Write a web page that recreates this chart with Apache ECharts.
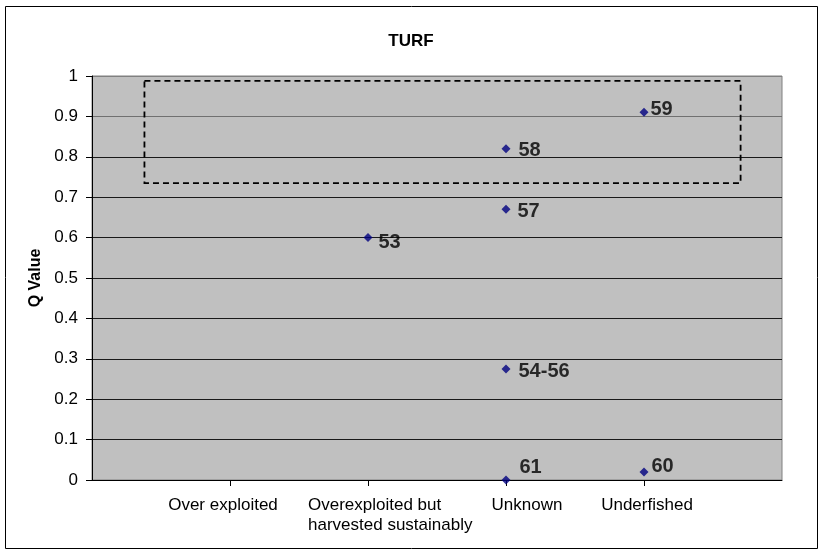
<!DOCTYPE html>
<html>
<head>
<meta charset="utf-8">
<title>TURF</title>
<script src="https://cdn.jsdelivr.net/npm/echarts@6/dist/echarts.min.js"></script>
<style>
  html, body { margin: 0; padding: 0; background: #ffffff; }
  #chart { width: 822px; height: 550px; }
</style>
</head>
<body>
<div id="chart"></div>
<script>
// Stock status categories placed on x = 1..4
const categories = ['Over exploited', 'Overexploited but\nharvested sustainably', 'Unknown', 'Underfished'];
const categoryPos = [1, 2, 3, 4];

// Fishery points: stock status position, Q value, and point label
const pointX      = [2,    3,    3,    3,     3,    4,    4   ];
const pointQ      = [0.60, 0.67, 0.82, 0.275, 0.00, 0.91, 0.02];
const pointLabels = ['53', '57', '58', '54-56', '61', '59', '60'];

// Highlighted region (x range, Q range)
const boxX = [0.38, 4.70];
const boxQ = [0.735, 0.988];

// Per-point label nudges [dx, dy] in pixels
const labelNudge = [[6, 5], [7, 2], [8, 2], [8, 3], [9, -13], [2, -3], [3, -5]];

const FONT = "'Liberation Sans', Arial, sans-serif";

const scatterData = pointX.map((x, i) => ({
  value: [x, pointQ[i]],
  name: pointLabels[i],
  label: { offset: labelNudge[i] }
}));

const labelTokens = ['a', 'b', 'c', 'd'];
const tickText = { fontFamily: FONT, fontSize: 17, color: '#000', lineHeight: 20 };

// Gridline colours from Q = 0 up to Q = 1
const gridColors = ['#000', '#1a1a1a', '#1a1a1a', '#1a1a1a', '#1a1a1a', '#1a1a1a',
                    '#1a1a1a', '#1a1a1a', '#1a1a1a', '#707070', '#808080'];

const chart = echarts.init(document.getElementById('chart'), null, { renderer: 'canvas' });

chart.setOption({
  backgroundColor: '#ffffff',
  animation: false,
  title: {
    text: 'TURF',
    left: 'center',
    top: 28,
    textStyle: { fontFamily: FONT, fontSize: 17, fontWeight: 'bold', color: '#000' }
  },
  grid: {
    left: 92, top: 76, right: 40, bottom: 70,
    show: true,
    backgroundColor: '#c0c0c0',
    borderColor: '#808080',
    borderWidth: 1
  },
  xAxis: {
    type: 'value',
    min: 0, max: 5, interval: 1,
    axisLine: { show: true, onZero: false, lineStyle: { color: '#000', width: 1 } },
    axisTick: { show: true, length: 6, lineStyle: { color: '#000' } },
    splitLine: { show: false },
    axisLabel: {
      margin: 15,
      showMinLabel: false, showMaxLabel: false,
      fontFamily: FONT, fontSize: 17, color: '#000',
      lineHeight: 20,
      formatter: function (v) {
        const k = categoryPos.indexOf(v);
        if (k < 0) return '';
        return categories[k].split('\n').map(s => '{' + labelTokens[k] + '|' + s + '}').join('\n');
      },
      rich: {
        a: Object.assign({}, tickText, { padding: [0, 14, 0, 0] }),
        b: Object.assign({}, tickText, { width: 170, align: 'left', padding: [0, 0, 0, 50] }),
        c: Object.assign({}, tickText, { padding: [0, 0, 0, 42] }),
        d: Object.assign({}, tickText, { padding: [0, 0, 0, 6] })
      }
    }
  },
  yAxis: {
    type: 'value',
    min: 0, max: 1, interval: 0.1,
    name: 'Q Value',
    nameLocation: 'middle',
    nameGap: 24,
    nameRotate: 90,
    nameTextStyle: { fontFamily: FONT, fontSize: 16, fontWeight: 'bold', color: '#000' },
    axisLine: { show: true, lineStyle: { color: '#000', width: 1 } },
    axisTick: { show: true, length: 6, lineStyle: { color: '#000' } },
    splitLine: { show: true, lineStyle: { color: gridColors, width: 1 } },
    axisLabel: {
      margin: 14,
      fontFamily: FONT, fontSize: 17, color: '#000',
      formatter: v => String(Math.round(v * 10) / 10)
    }
  },
  series: [{
    type: 'scatter',
    symbol: 'diamond',
    symbolSize: 9,
    itemStyle: { color: '#000080' },
    label: {
      show: true,
      position: 'right',
      distance: 0,
      formatter: p => p.name,
      fontFamily: FONT, fontSize: 20, fontWeight: 'bold', color: '#000'
    },
    data: scatterData,
    markArea: {
      silent: true,
      itemStyle: {
        color: 'rgba(0,0,0,0)',
        borderColor: '#000',
        borderWidth: 1.8,
        borderType: [6, 4]
      },
      data: [[{ coord: [boxX[0], boxQ[1]] }, { coord: [boxX[1], boxQ[0]] }]]
    }
  }],
  graphic: [{
    type: 'rect',
    shape: { x: 5.5, y: 6.5, width: 812, height: 542 },
    style: { fill: null, stroke: '#000', lineWidth: 1 },
    silent: true,
    z: 10
  }]
});
</script>
</body>
</html>
